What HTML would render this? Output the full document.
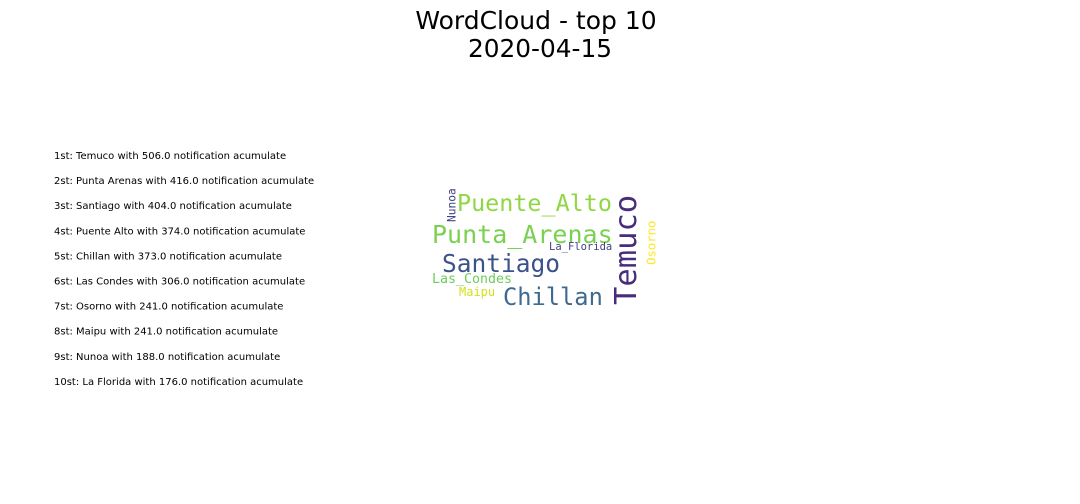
<!DOCTYPE html>
<html><head><meta charset="utf-8"><style>
body{margin:0;background:#fff;width:1080px;height:504px;overflow:hidden}
svg{display:block}
</style></head><body>
<svg width="1080" height="504">
<text x="536" y="29" text-anchor="middle" font-family="DejaVu Sans, sans-serif" font-size="25">WordCloud - top 10</text>
<text x="540" y="57" text-anchor="middle" font-family="DejaVu Sans, sans-serif" font-size="24.8">2020-04-15</text>
<g id="list"></g>
<g id="cloud" font-family="DejaVu Sans Mono, monospace"></g>
</svg>
<script>
const cities = ["Temuco","Punta Arenas","Santiago","Puente Alto","Chillan","Las Condes","Osorno","Maipu","Nunoa","La Florida"];
const values = [506.0,416.0,404.0,374.0,373.0,306.0,241.0,241.0,188.0,176.0];
// word cloud layout (placement produced by the wordcloud algorithm)
const wx = [612,432,442,457,503,432,646,459,447,549];
const wy = [305,243,272,211,305,283,265,296,222,250];
const wsize = [30.5,25,24.5,23.4,23.7,13.3,12.3,12,11.2,10.5];
const wrot = [true,false,false,false,false,false,true,false,true,false];
const wcolor = ["#472d7b","#7ad151","#3b528b","#8fd744","#3e6a8f","#6ccd5a","#fde725","#d2e21b","#414487","#433e85"];
const NS="http://www.w3.org/2000/svg";
const list=document.getElementById('list');
cities.forEach((c,i)=>{
  const t=document.createElementNS(NS,'text');
  t.setAttribute('x',54);t.setAttribute('y',159+i*25.1);
  t.setAttribute('font-family','DejaVu Sans, sans-serif');t.setAttribute('font-size','10');
  t.textContent=(i+1)+"st: "+c+" with "+values[i].toFixed(1)+" notification acumulate";
  
  
  list.appendChild(t);
});
const cloud=document.getElementById('cloud');
cities.forEach((c,i)=>{
  const t=document.createElementNS(NS,'text');
  const x=wx[i]+(wrot[i]?wsize[i]*0.78:0), y=wy[i];
  t.setAttribute('x',x);t.setAttribute('y',y);
  t.setAttribute('font-size',wsize[i]);t.setAttribute('fill',wcolor[i]);
  if(wrot[i]) t.setAttribute('transform','rotate(-90 '+x+' '+y+')');
  t.textContent=c.replace(' ','_');
  
  
  cloud.appendChild(t);
});
</script>
</body></html>
